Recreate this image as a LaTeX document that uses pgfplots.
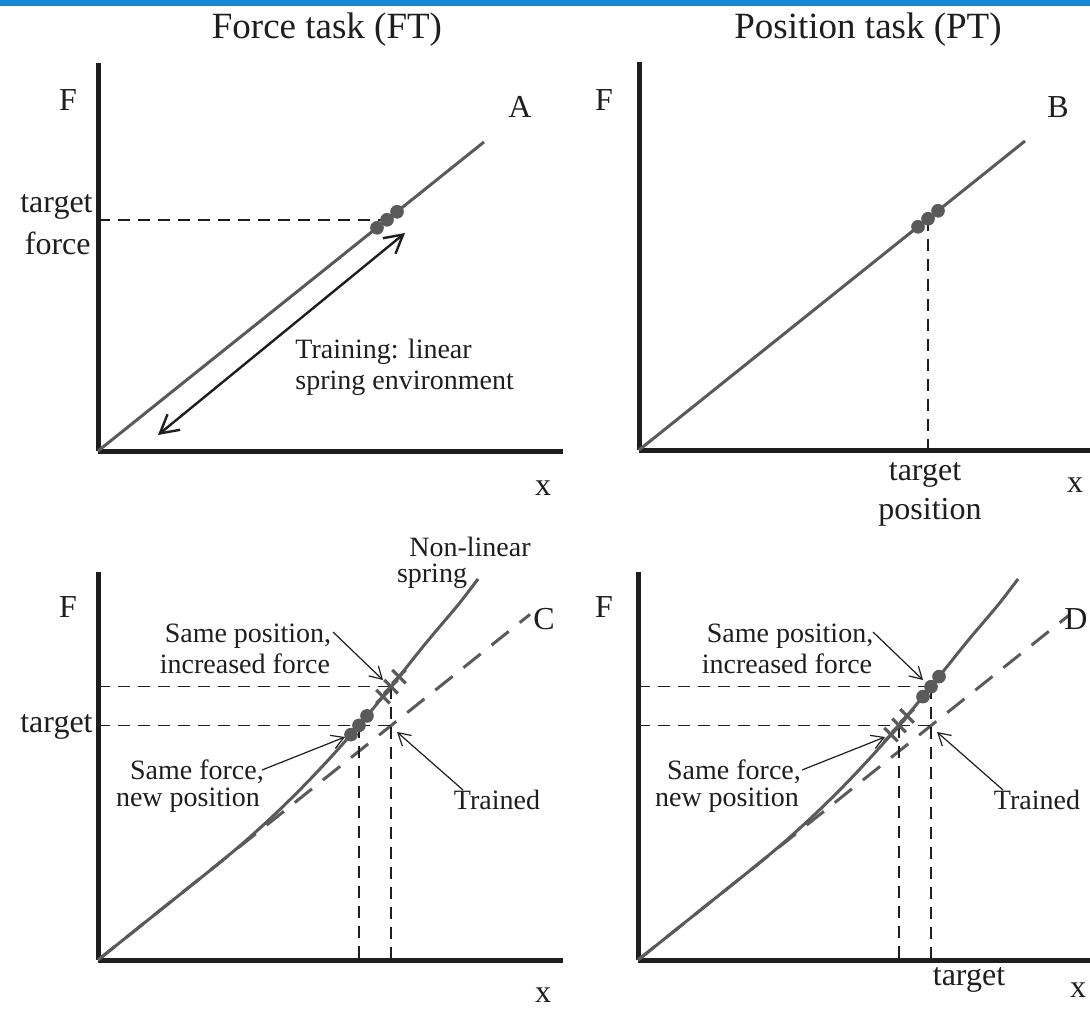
\documentclass[border=0pt]{standalone}
\usepackage{fontspec}
\setmainfont{Liberation Serif}
\usepackage{pgfplots}
\pgfplotsset{compat=1.18}
\usetikzlibrary{arrows.meta}

\definecolor{spring}{HTML}{5A5A5A}
\definecolor{ink}{HTML}{1E1E1E}
\definecolor{band}{HTML}{1787D6}

% nonlinear spring: F (px units) against x (px units)
\pgfplotstableread{
x     F
0     0
60    48
120   96
150   121.2
180   148.7
210   178.5
240   210.7
270   245.3
300   282.1
330   319.5
360   355.0
380   381.0
}\nonlinear

\pgfplotsset{
  panel/.style={
    x=0.5pt, y=0.5pt, xmin=0, xmax=465, ymin=0, ymax=388,
    axis lines=left, axis line style={-, line width=2.5pt, color=ink},
    xtick=\empty, ytick=\empty, clip=false, anchor=south west,
  },
  springline/.style={no marks, color=spring, line width=1.5pt},
  trained/.style={no marks, color=spring, line width=1.5pt, dash pattern=on 11pt off 7pt},
  guide/.style={no marks, color=ink, line width=0.75pt, dash pattern=on 6pt off 4pt},
  dots/.style={only marks, mark=*, mark size=3.2pt, color=spring, mark options={fill=spring, draw=spring}},
  crosses/.style={only marks, mark=x, mark size=4.8pt, color=spring, mark options={line width=1.6pt}},
}
\tikzset{
  lab/.style={font=\fontsize{16}{18}\selectfont, text=ink, inner sep=0pt},
  ann/.style={font=\fontsize{14}{16}\selectfont, text=ink, inner sep=0pt},
  ttl/.style={font=\fontsize{18.5}{21}\selectfont, text=ink, inner sep=0pt},
  pointer/.style={-{Straight Barb[length=6pt,width=7pt]}, line width=0.6pt, color=ink},
}

\begin{document}
\begin{tikzpicture}
\useasboundingbox (0,0) rectangle (545pt,504pt);
\clip (0,0) rectangle (545pt,504pt);
\fill[band] (0,501pt) rectangle (545pt,504pt);

% ---------- A: force task, linear spring ----------
\begin{axis}[panel, at={(49pt,278.5pt)}]
  \addplot[springline] coordinates {(0,0) (386,309)};
  \addplot[guide] coordinates {(0,231.2) (289,231.2)};
  \addplot[dots] coordinates {(279,223.2) (289,231.2) (299,239.2)};
  \draw[{Straight Barb[length=9pt,width=10pt]}-{Straight Barb[length=9pt,width=10pt]}, line width=1.2pt, color=ink]
    (60,16) -- (307,218);
  \node[ann, anchor=west] at (197,99) {Training: linear};
  \node[ann, anchor=west] at (197,68) {spring environment};
  \node[lab] at (-30,351) {F};
  \node[lab] at (422,344) {A};
  \node[lab] at (445,-37) {x};
  \node[lab, anchor=east] at (-5,244) {target};
  \node[lab, anchor=east] at (-7,208) {force};
  \node[ttl] at (229,421) {Force task (FT)};
\end{axis}

% ---------- B: position task, linear spring ----------
\begin{axis}[panel, at={(319.5pt,279pt)}]
  \addplot[springline] coordinates {(0,0) (386,309)};
  \addplot[guide] coordinates {(289,231.2) (289,0)};
  \addplot[dots] coordinates {(279,223.2) (289,231.2) (299,239.2)};
  \node[lab] at (-35,350) {F};
  \node[lab] at (419,343) {B};
  \node[lab] at (436,-35) {x};
  \node[lab] at (286,-25) {target};
  \node[lab] at (291,-62) {position};
  \node[ttl] at (229,420) {Position task (PT)};
\end{axis}

% ---------- C: force task, nonlinear spring ----------
\begin{axis}[panel, at={(49pt,24pt)}]
  \addplot[trained] coordinates {(0,0) (432,345.6)};
  \addplot[springline, smooth] table[x=x, y=F] {\nonlinear};
  \addplot[guide] coordinates {(0,273.3) (293,273.3)};
  \addplot[guide] coordinates {(0,234.4) (293,234.4)};
  \addplot[guide] coordinates {(261,234.4) (261,0)};
  \addplot[guide] coordinates {(293,273.3) (293,0)};
  \addplot[dots] coordinates {(253,225.4) (261,234.6) (269,244.1)};
  \addplot[crosses] coordinates {(285,263.4) (293,273.3) (301,283.4)};
  \node[ann] at (372,413) {Non-linear};
  \node[ann] at (334,384) {spring};
  \node[ann] at (150,324) {Same position,};
  \node[ann] at (147,296) {increased force};
  \draw[pointer] (235,328) -- (285,280);
  \node[ann] at (99,188) {Same force,};
  \node[ann] at (90,160) {new position};
  \draw[pointer] (164,190) -- (247,223);
  \node[ann] at (399,160) {Trained};
  \draw[pointer] (365,170) -- (299,228);
  \node[lab] at (-30,353) {F};
  \node[lab] at (446,341) {C};
  \node[lab] at (445,-35) {x};
  \node[lab, anchor=east] at (-5,233) {target};
\end{axis}

% ---------- D: position task, nonlinear spring ----------
\begin{axis}[panel, at={(319pt,24pt)}]
  \addplot[trained] coordinates {(0,0) (432,345.6)};
  \addplot[springline, smooth] table[x=x, y=F] {\nonlinear};
  \addplot[guide] coordinates {(0,273.3) (293,273.3)};
  \addplot[guide] coordinates {(0,234.4) (293,234.4)};
  \addplot[guide] coordinates {(261,234.4) (261,0)};
  \addplot[guide] coordinates {(293,273.3) (293,0)};
  \addplot[crosses] coordinates {(253,225.4) (261,234.6) (269,244.1)};
  \addplot[dots] coordinates {(285,263.4) (293,273.3) (301,283.4)};
  \node[ann] at (152,324) {Same position,};
  \node[ann] at (149,296) {increased force};
  \draw[pointer] (235,328) -- (285,280);
  \node[ann] at (96,188) {Same force,};
  \node[ann] at (89,160) {new position};
  \draw[pointer] (164,190) -- (247,223);
  \node[ann] at (399,160) {Trained};
  \draw[pointer] (365,170) -- (299,228);
  \node[lab] at (-34,353) {F};
  \node[lab] at (438,341) {D};
  \node[lab] at (440,-30) {x};
  \node[lab] at (331,-20) {target};
\end{axis}
\end{tikzpicture}
\end{document}
